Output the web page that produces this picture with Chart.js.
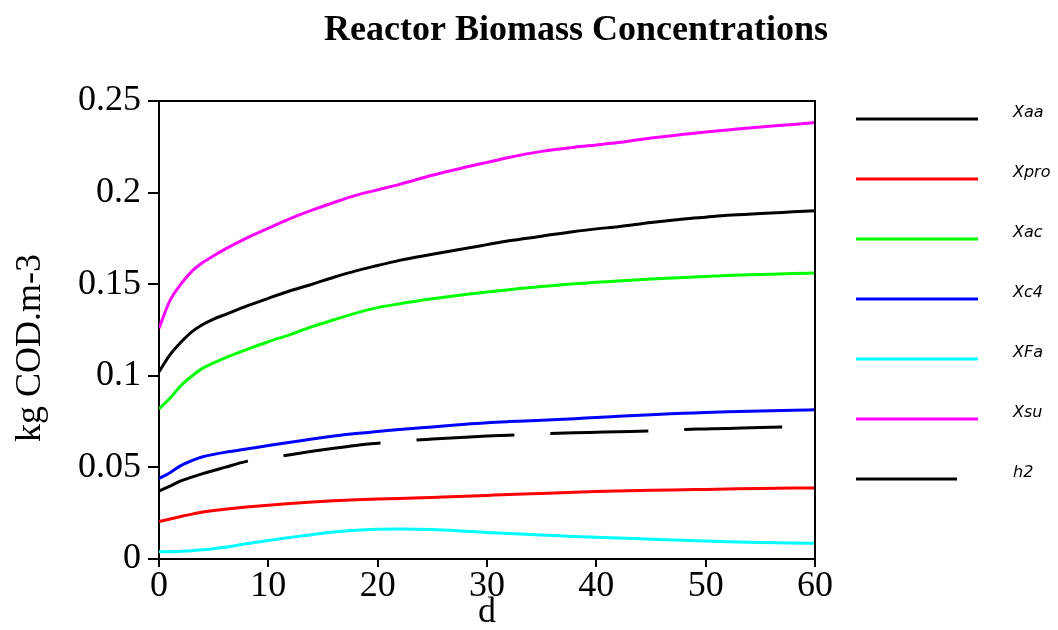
<!DOCTYPE html>
<html>
<head>
<meta charset="utf-8">
<script src="https://cdn.jsdelivr.net/npm/chart.js@4/dist/chart.umd.min.js"></script>
<style>
  html, body { margin: 0; padding: 0; background: #ffffff; }
  #wrap { width: 1058px; height: 630px; position: relative; }
</style>
</head>
<body>
<div id="wrap"><canvas id="c" width="1058" height="630"></canvas></div>
<script>
// ---- data ----
const days = [0,1,2,3,4,5,6,8,10,12,14,16,18,20,22,25,28,30,32,35,38,40,42,45,48,50,52,55,58,60];

const Xaa  = [0.1022,0.1114,0.1183,0.1240,0.1280,0.1310,0.1333,0.1380,0.1423,0.1464,0.1500,0.1538,0.1573,0.1602,0.1630,0.1663,0.1695,0.1716,0.1737,0.1762,0.1788,0.1802,0.1814,0.1837,0.1856,0.1866,0.1876,0.1886,0.1895,0.1901];
const Xpro = [0.0204,0.0218,0.0232,0.0245,0.0256,0.0265,0.0272,0.0284,0.0294,0.0303,0.0311,0.0318,0.0323,0.0327,0.0330,0.0336,0.0342,0.0347,0.0352,0.0358,0.0364,0.0368,0.0371,0.0375,0.0378,0.0380,0.0382,0.0385,0.0387,0.0388];
const Xac  = [0.0819,0.0877,0.0946,0.0998,0.1042,0.1071,0.1097,0.1143,0.1186,0.1225,0.1268,0.1306,0.1342,0.1372,0.1393,0.1420,0.1444,0.1458,0.1470,0.1488,0.1503,0.1510,0.1518,0.1528,0.1537,0.1542,0.1548,0.1553,0.1558,0.1561];
const Xc4  = [0.0440,0.0471,0.0510,0.0537,0.0558,0.0571,0.0582,0.0601,0.0619,0.0637,0.0655,0.0671,0.0685,0.0696,0.0707,0.0721,0.0735,0.0744,0.0750,0.0757,0.0766,0.0773,0.0779,0.0788,0.0795,0.0800,0.0804,0.0808,0.0812,0.0815];
const XFa  = [0.0040,0.0040,0.0042,0.0045,0.0050,0.0056,0.0064,0.0083,0.0101,0.0118,0.0133,0.0147,0.0157,0.0162,0.0164,0.0161,0.0152,0.0145,0.0139,0.0131,0.0123,0.0119,0.0115,0.0108,0.0102,0.0098,0.0094,0.0090,0.0087,0.0086];
const Xsu  = [0.1260,0.1410,0.1500,0.1570,0.1618,0.1655,0.1690,0.1752,0.1806,0.1858,0.1904,0.1946,0.1985,0.2015,0.2045,0.2095,0.2138,0.2165,0.2192,0.2225,0.2248,0.2260,0.2273,0.2298,0.2318,0.2331,0.2342,0.2358,0.2372,0.2382];
const h2   = [0.0371,0.0398,0.0426,0.0447,0.0466,0.0483,0.0500,0.0533,0.0552,0.0569,0.0588,0.0605,0.0620,0.0632,0.0643,0.0655,0.0665,0.0671,0.0676,0.0684,0.0689,0.0692,0.0695,0.0699,0.0707,0.0710,0.0713,0.0718,0.0722,0.0724];

const seriesNames = ['Xaa','Xpro','Xac','Xc4','XFa','Xsu','h2'];
const xTickLabels = ['0','10','20','30','40','50','60'];
const yTickLabels = ['0','0.05','0.1','0.15','0.2','0.25'];
const titleText = 'Reactor Biomass Concentrations';
const xTitle = 'd';
const yTitle = 'kg COD.m-3';

// ---- styles ----
const colors = ['#000000','#ff0000','#00ff00','#0000ff','#00ffff','#ff00ff','#000000'];
const seriesData = [Xaa, Xpro, Xac, Xc4, XFa, Xsu, h2];
const SERIF = '"Liberation Serif", "Times New Roman", serif';

const datasets = seriesNames.map((name, i) => ({
  label: name,
  data: days.map((d, k) => ({ x: d, y: seriesData[i][k] })),
  borderColor: colors[i],
  backgroundColor: colors[i],
  borderWidth: 3,
  pointRadius: 0,
  fill: false,
  cubicInterpolationMode: 'monotone',
  borderDash: name === 'h2' ? [98, 36] : [],
  borderDashOffset: name === 'h2' ? 4 : 0,
  borderCapStyle: 'butt'
}));

const decorPlugin = {
  id: 'decor',
  afterDraw(chart) {
    const ctx = chart.ctx;
    const a = chart.chartArea;
    ctx.save();
    // box top + right
    ctx.strokeStyle = '#000';
    ctx.lineWidth = 2;
    ctx.beginPath();
    ctx.moveTo(a.left, a.top);
    ctx.lineTo(a.right, a.top);
    ctx.lineTo(a.right, a.bottom);
    ctx.stroke();

    // title
    ctx.fillStyle = '#000';
    ctx.font = 'bold 36px ' + SERIF;
    ctx.textAlign = 'center';
    ctx.textBaseline = 'alphabetic';
    ctx.fillText(titleText, 576, 40);

    // x title
    ctx.font = '36px ' + SERIF;
    ctx.fillText(xTitle, (a.left + a.right) / 2, 622);

    // y title
    ctx.save();
    ctx.translate(40, 348);
    ctx.rotate(-Math.PI / 2);
    ctx.textAlign = 'center';
    ctx.fillText(yTitle, 0, 0);
    ctx.restore();

    // legend
    const lx0 = 856, lx1 = 978, ly0 = 119, dy = 60;
    chart.data.datasets.forEach((ds, i) => {
      const y = ly0 + i * dy;
      ctx.strokeStyle = ds.borderColor;
      ctx.lineWidth = 3;
      ctx.setLineDash([]);
      ctx.beginPath();
      ctx.moveTo(lx0, y);
      ctx.lineTo(ds.label === 'h2' ? 957 : lx1, y);
      ctx.stroke();
      ctx.fillStyle = '#000';
      ctx.font = 'italic 16px "DejaVu Sans", sans-serif';
      ctx.textAlign = 'left';
      ctx.fillText(ds.label, 1013, y - 2);
    });
    ctx.restore();
  }
};

new Chart(document.getElementById('c'), {
  type: 'line',
  data: { datasets },
  plugins: [decorPlugin],
  options: {
    responsive: false,
    animation: false,
    events: [],
    layout: { padding: { top: 101, right: 243, bottom: 0, left: 0 } },
    plugins: { legend: { display: false }, title: { display: false }, tooltip: { enabled: false } },
    scales: {
      x: {
        type: 'linear',
        min: 0, max: 60,
        afterFit(s) { s.height = 71; },
        afterBuildTicks(s) { s.ticks = xTickLabels.map(v => ({ value: Number(v) })); },
        ticks: {
          callback: (v, i) => xTickLabels[i],
          color: '#000',
          font: { family: SERIF, size: 36 },
          padding: -2,
          maxRotation: 0,
          autoSkip: false
        },
        grid: { drawOnChartArea: false, drawTicks: true, tickLength: 8, color: '#000', lineWidth: 2 },
        border: { display: true, color: '#000', width: 2 }
      },
      y: {
        type: 'linear',
        min: 0, max: 0.25,
        afterFit(s) { s.width = 159; },
        afterBuildTicks(s) { s.ticks = yTickLabels.map(v => ({ value: Number(v) })); },
        ticks: {
          callback: (v, i) => yTickLabels[i],
          color: '#000',
          font: { family: SERIF, size: 36 },
          padding: 7,
          autoSkip: false
        },
        grid: { drawOnChartArea: false, drawTicks: true, tickLength: 11, color: '#000', lineWidth: 2 },
        border: { display: true, color: '#000', width: 2 }
      }
    }
  }
});
</script>
</body>
</html>
